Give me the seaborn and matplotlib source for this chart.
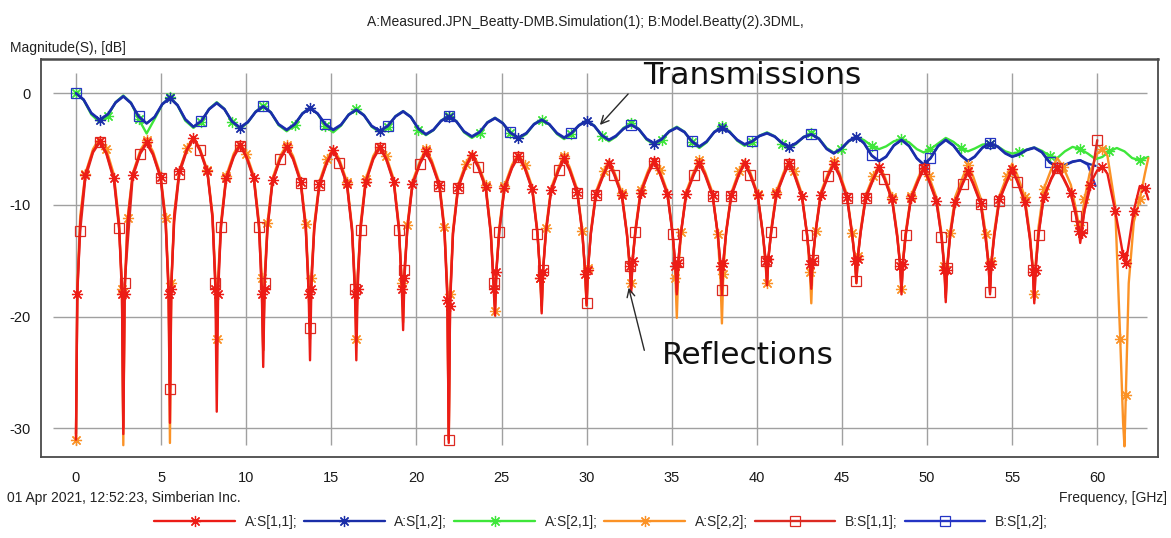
import matplotlib
matplotlib.use("Agg")
import matplotlib.pyplot as plt
import seaborn as sns
from matplotlib.lines import Line2D
from matplotlib.legend_handler import HandlerLine2D

# ---------------------------------------------------------------- data
# Reflection sweep points (GHz), one row per resonance lobe
refl_freq = [
    0.00, 0.08, 0.25, 0.55, 1.00, 1.39, 1.78, 2.23, 2.53, 2.70,
    2.78, 2.86, 3.03, 3.33, 3.78, 4.15, 4.52, 4.97, 5.27, 5.44,
    5.52, 5.60, 5.77, 6.07, 6.52, 6.90, 7.27, 7.72, 8.02, 8.19,
    8.27, 8.35, 8.52, 8.82, 9.27, 9.64, 10.00, 10.45, 10.75, 10.92,
    11.00, 11.08, 11.25, 11.55, 12.00, 12.38, 12.75, 13.20, 13.50, 13.67,
    13.75, 13.83, 14.00, 14.30, 14.75, 15.11, 15.47, 15.92, 16.22, 16.39,
    16.47, 16.55, 16.72, 17.02, 17.47, 17.85, 18.22, 18.67, 18.97, 19.14,
    19.22, 19.30, 19.47, 19.77, 20.22, 20.56, 20.90, 21.35, 21.65, 21.82,
    21.90, 21.98, 22.15, 22.45, 22.90, 23.26, 23.62, 24.07, 24.37, 24.54,
    24.62, 24.70, 24.87, 25.17, 25.62, 25.99, 26.36, 26.81, 27.11, 27.28,
    27.36, 27.44, 27.61, 27.91, 28.36, 28.68, 29.00, 29.45, 29.75, 29.92,
    30.00, 30.08, 30.25, 30.55, 31.00, 31.31, 31.62, 32.07, 32.37, 32.54,
    32.62, 32.70, 32.87, 33.17, 33.62, 33.96, 34.30, 34.75, 35.05, 35.22,
    35.30, 35.38, 35.55, 35.85, 36.30, 36.62, 36.95, 37.40, 37.70, 37.87,
    37.95, 38.03, 38.20, 38.50, 38.95, 39.28, 39.60, 40.05, 40.35, 40.52,
    40.60, 40.68, 40.85, 41.15, 41.60, 41.90, 42.20, 42.65, 42.95, 43.12,
    43.20, 43.28, 43.45, 43.75, 44.20, 44.52, 44.85, 45.30, 45.60, 45.77,
    45.85, 45.93, 46.10, 46.40, 46.85, 47.18, 47.50, 47.95, 48.25, 48.42,
    48.50, 48.58, 48.75, 49.05, 49.50, 49.80, 50.10, 50.55, 50.85, 51.02,
    51.10, 51.18, 51.35, 51.65, 52.10, 52.40, 52.70, 53.15, 53.45, 53.62,
    53.70, 53.78, 53.95, 54.25, 54.70, 55.00, 55.30, 55.75, 56.05, 56.22,
    56.30, 56.38, 56.55, 56.85, 57.30, 57.65, 58.00, 58.45, 58.75, 58.92,
    59.00, 59.08, 59.25, 59.55, 60.00, 60.30, 60.60, 61.05, 61.35, 61.52,
    61.60, 61.68, 61.85, 62.15, 62.50, 62.80, 63.00,
]

# A:S[1,1] measured, dB
s11_a = [
    -31.0, -18.0, -11.5, -7.3, -5.2, -4.3, -5.3, -7.6, -11.8, -18.0,
    -30.5, -18.0, -11.5, -7.3, -5.3, -4.4, -5.4, -7.5, -11.5, -18.0,
    -29.5, -17.5, -11.0, -7.0, -5.0, -4.0, -5.0, -7.0, -11.0, -17.5,
    -28.5, -18.0, -11.8, -7.6, -5.6, -4.6, -5.6, -7.6, -11.8, -18.0,
    -24.5, -17.5, -12.0, -7.8, -5.8, -4.8, -5.8, -7.9, -12.0, -18.0,
    -23.9, -17.5, -12.0, -8.1, -6.1, -5.1, -6.1, -8.1, -12.2, -18.0,
    -23.9, -17.5, -12.0, -7.9, -5.8, -4.8, -5.8, -7.9, -12.0, -17.5,
    -21.2, -16.5, -12.0, -8.1, -6.2, -5.2, -6.2, -8.2, -12.3, -18.5,
    -31.3, -19.0, -12.5, -8.4, -6.5, -5.5, -6.5, -8.4, -12.5, -17.5,
    -19.9, -16.0, -12.3, -8.5, -6.6, -5.6, -6.6, -8.6, -12.5, -16.5,
    -19.7, -16.0, -12.4, -8.7, -6.8, -5.8, -6.8, -8.8, -12.5, -16.2,
    -19.0, -15.8, -12.5, -9.0, -7.2, -6.2, -7.2, -9.1, -12.6, -15.5,
    -17.8, -15.0, -12.3, -8.9, -7.1, -6.1, -7.1, -9.0, -12.5, -15.5,
    -18.0, -15.2, -12.4, -9.0, -7.2, -6.2, -7.2, -9.1, -12.5, -15.5,
    -18.0, -15.2, -12.4, -9.1, -7.2, -6.2, -7.2, -9.1, -12.5, -15.0,
    -17.2, -14.8, -12.3, -9.0, -7.2, -6.2, -7.2, -9.2, -12.6, -15.3,
    -17.5, -15.0, -12.4, -9.1, -7.3, -6.3, -7.3, -9.3, -12.6, -15.0,
    -17.0, -14.8, -12.4, -9.3, -7.6, -6.6, -7.6, -9.5, -12.8, -15.5,
    -18.0, -15.3, -12.6, -9.4, -7.7, -6.7, -7.7, -9.6, -12.8, -15.8,
    -18.7, -15.8, -12.8, -9.7, -8.0, -7.0, -8.0, -9.8, -13.0, -15.5,
    -18.0, -15.3, -12.7, -9.5, -7.8, -6.8, -7.8, -9.7, -13.0, -16.0,
    -18.8, -15.8, -12.6, -9.3, -7.6, -6.6, -7.5, -8.9, -10.8, -12.3,
    -13.4, -12.5, -10.5, -8.2, -6.9, -6.6, -7.2, -10.5, -13.0, -14.5,
    -15.0, -15.2, -13.5, -10.5, -8.3, -8.5, -9.5,
]

# A:S[2,2] measured, dB
s22_a = [
    -31.0, -17.0, -11.0, -7.2, -5.0, -4.0, -5.0, -7.3, -11.5, -17.5,
    -31.5, -17.5, -11.2, -7.2, -5.1, -4.2, -5.2, -7.3, -11.2, -17.0,
    -31.3, -17.0, -10.8, -6.9, -4.9, -3.9, -4.9, -6.9, -10.8, -16.5,
    -22.0, -16.5, -11.5, -7.4, -5.4, -4.4, -5.4, -7.4, -11.5, -16.5,
    -23.0, -16.5, -11.6, -7.6, -5.6, -4.6, -5.6, -7.7, -11.7, -17.0,
    -22.0, -16.5, -11.7, -7.9, -5.9, -4.9, -5.9, -7.9, -12.0, -17.0,
    -22.0, -16.5, -11.7, -7.7, -5.6, -4.6, -5.6, -7.7, -11.8, -17.0,
    -20.5, -16.0, -11.8, -7.9, -6.0, -5.0, -6.0, -8.0, -12.0, -17.5,
    -31.0, -18.0, -12.2, -8.2, -6.3, -5.3, -6.3, -8.2, -12.2, -17.0,
    -19.5, -15.8, -12.0, -8.3, -6.4, -5.4, -6.4, -8.4, -12.3, -16.5,
    -19.5, -15.8, -12.1, -8.5, -6.6, -5.6, -6.6, -8.6, -12.3, -16.5,
    -19.0, -15.6, -12.3, -8.8, -7.0, -6.0, -7.0, -8.9, -12.5, -16.0,
    -17.0, -14.8, -12.1, -8.7, -6.9, -5.9, -6.9, -8.8, -12.5, -16.5,
    -20.1, -16.2, -12.4, -8.8, -7.0, -6.0, -7.0, -8.9, -12.6, -16.8,
    -20.6, -16.2, -12.3, -8.9, -7.0, -6.0, -7.0, -9.0, -12.5, -15.5,
    -17.0, -14.8, -12.1, -8.8, -7.0, -6.0, -7.0, -9.0, -12.6, -16.0,
    -18.8, -15.5, -12.3, -8.9, -7.1, -6.1, -7.1, -9.1, -12.5, -15.0,
    -17.0, -14.6, -12.2, -9.1, -7.4, -6.4, -7.4, -9.3, -12.6, -15.3,
    -17.5, -15.0, -12.4, -9.2, -7.5, -6.5, -7.4, -9.3, -12.5, -15.5,
    -18.0, -15.5, -12.5, -9.3, -7.5, -6.4, -7.4, -9.4, -12.6, -15.2,
    -17.5, -15.0, -12.4, -9.2, -7.4, -6.3, -7.3, -9.3, -12.7, -15.7,
    -18.0, -15.2, -12.0, -8.6, -6.8, -5.8, -6.6, -8.2, -10.4, -11.8,
    -12.5, -11.5, -9.5, -7.2, -5.4, -5.0, -5.6, -10.0, -22.0, -29.5,
    -31.6, -27.0, -17.0, -11.5, -9.5, -7.2, -5.8,
]

# B:S[1,1] model, dB (simulated up to 60 GHz)
s11_b = [
    -30.5, -17.5, -12.3, -7.6, -5.3, -4.4, -5.4, -7.8, -12.1, -17.0,
    -30.0, -17.0, -13.5, -7.5, -5.4, -4.5, -5.5, -7.6, -11.8, -17.5,
    -26.5, -17.0, -11.5, -7.2, -5.1, -4.1, -5.1, -7.1, -11.2, -17.0,
    -22.5, -17.0, -12.0, -7.7, -5.7, -4.7, -5.7, -7.7, -12.0, -17.5,
    -23.0, -17.0, -12.2, -7.9, -5.9, -4.9, -5.9, -8.0, -12.2, -17.5,
    -21.0, -16.5, -12.2, -8.2, -6.2, -5.2, -6.2, -8.2, -12.4, -17.5,
    -20.6, -16.3, -12.2, -8.0, -5.9, -4.9, -5.9, -8.0, -12.2, -17.0,
    -19.1, -15.8, -12.2, -8.2, -6.3, -5.3, -6.3, -8.3, -12.5, -18.0,
    -31.0, -18.5, -12.6, -8.5, -6.6, -5.6, -6.6, -8.5, -12.6, -17.0,
    -19.0, -15.8, -12.4, -8.6, -6.7, -5.7, -6.7, -8.7, -12.6, -16.3,
    -19.0, -15.8, -12.5, -8.8, -6.9, -5.9, -6.9, -8.9, -12.6, -16.0,
    -18.8, -15.7, -12.6, -9.1, -7.3, -6.3, -7.3, -9.2, -12.7, -15.5,
    -17.5, -14.9, -12.4, -9.0, -7.2, -6.2, -7.2, -9.1, -12.6, -15.4,
    -17.8, -15.1, -12.5, -9.1, -7.3, -6.3, -7.3, -9.2, -12.6, -15.3,
    -17.6, -15.0, -12.5, -9.2, -7.3, -6.3, -7.3, -9.2, -12.6, -15.0,
    -17.0, -14.7, -12.4, -9.1, -7.3, -6.3, -7.3, -9.3, -12.7, -15.2,
    -17.2, -14.9, -12.5, -9.2, -7.4, -6.4, -7.4, -9.4, -12.7, -15.0,
    -16.8, -14.7, -12.5, -9.4, -7.7, -6.7, -7.7, -9.6, -12.9, -15.3,
    -17.6, -15.2, -12.7, -9.5, -7.8, -6.8, -7.8, -9.7, -12.9, -15.6,
    -18.3, -15.6, -12.9, -9.8, -8.1, -7.1, -8.1, -9.9, -13.1, -15.4,
    -17.8, -15.2, -12.8, -9.6, -7.9, -6.9, -7.9, -9.8, -13.1, -15.8,
    -18.5, -15.6, -12.7, -9.4, -7.7, -6.7, -7.6, -9.0, -11.0, -12.5,
    -13.0, -12.0, -10.5, -8.7, -4.2,
]

# Transmission sweep points (GHz)
trans_freq = [
    0.00, 0.45, 0.90, 1.39, 1.88, 2.33,
    2.78, 3.23, 3.68, 4.15, 4.62, 5.07,
    5.52, 5.97, 6.42, 6.90, 7.37, 7.82,
    8.27, 8.72, 9.17, 9.64, 10.10, 10.55,
    11.00, 11.45, 11.90, 12.38, 12.85, 13.30,
    13.75, 14.20, 14.65, 15.11, 15.57, 16.02,
    16.47, 16.92, 17.37, 17.85, 18.32, 18.77,
    19.22, 19.67, 20.12, 20.56, 21.00, 21.45,
    21.90, 22.35, 22.80, 23.26, 23.72, 24.17,
    24.62, 25.07, 25.52, 25.99, 26.46, 26.91,
    27.36, 27.81, 28.26, 28.68, 29.10, 29.55,
    30.00, 30.45, 30.90, 31.31, 31.72, 32.17,
    32.62, 33.07, 33.52, 33.96, 34.40, 34.85,
    35.30, 35.75, 36.20, 36.62, 37.05, 37.50,
    37.95, 38.40, 38.85, 39.28, 39.70, 40.15,
    40.60, 41.05, 41.50, 41.90, 42.30, 42.75,
    43.20, 43.65, 44.10, 44.52, 44.95, 45.40,
    45.85, 46.30, 46.75, 47.18, 47.60, 48.05,
    48.50, 48.95, 49.40, 49.80, 50.20, 50.65,
    51.10, 51.55, 52.00, 52.40, 52.80, 53.25,
    53.70, 54.15, 54.60, 55.00, 55.40, 55.85,
    56.30, 56.75, 57.20, 57.65, 58.10, 58.55,
    59.00, 59.45, 59.90, 60.30, 60.70, 61.15,
    61.60, 62.05, 62.50, 63.00,
]

# A:S[1,2] measured, dB
s12_a = [
    0.0, -0.6, -1.8, -2.4, -1.9, -0.85,
    -0.3, -0.9, -2.1, -2.7, -2.15, -1.0,
    -0.45, -1.1, -2.35, -3.0, -2.5, -1.45,
    -0.9, -1.45, -2.55, -3.1, -2.6, -1.7,
    -1.2, -1.75, -2.8, -3.3, -2.8, -1.85,
    -1.35, -1.85, -2.8, -3.3, -2.85, -1.95,
    -1.5, -2.0, -2.95, -3.4, -2.95, -2.1,
    -1.65, -2.15, -3.2, -3.7, -3.3, -2.5,
    -2.1, -2.55, -3.45, -3.9, -3.5, -2.65,
    -2.25, -2.7, -3.55, -4.0, -3.6, -2.8,
    -2.4, -2.8, -3.6, -4.0, -3.6, -2.9,
    -2.5, -2.95, -3.8, -4.2, -3.85, -3.2,
    -2.85, -3.25, -4.1, -4.5, -4.15, -3.45,
    -3.1, -3.5, -4.35, -4.8, -4.35, -3.5,
    -3.1, -3.5, -4.2, -4.6, -4.35, -3.85,
    -3.6, -3.9, -4.5, -4.8, -4.5, -3.95,
    -3.7, -4.1, -5.0, -5.4, -5.0, -4.3,
    -3.9, -4.5, -5.6, -6.1, -5.7, -4.7,
    -4.2, -4.75, -5.85, -6.4, -5.85, -4.75,
    -4.2, -4.7, -5.6, -6.1, -5.7, -4.9,
    -4.5, -4.8, -5.4, -5.7, -5.5, -5.1,
    -4.9, -5.3, -6.2, -6.6, -6.45, -6.15,
    -6.0, -6.3, -6.5,
]

# A:S[2,1] measured, dB
s21_a = [
    0.0, -0.6, -1.9, -2.6, -2.0, -0.8,
    -0.2, -0.85, -2.3, -3.6, -2.3, -1.0,
    -0.3, -1.1, -2.45, -3.1, -2.55, -1.4,
    -0.8, -1.4, -2.6, -3.2, -2.6, -1.65,
    -1.1, -1.7, -2.85, -3.4, -2.85, -1.8,
    -1.3, -1.85, -2.95, -3.5, -2.9, -1.9,
    -1.4, -1.95, -3.0, -3.5, -3.0, -2.05,
    -1.6, -2.1, -3.25, -3.75, -3.3, -2.45,
    -2.0, -2.5, -3.5, -4.0, -3.55, -2.6,
    -2.2, -2.65, -3.6, -4.1, -3.65, -2.75,
    -2.35, -2.8, -3.65, -4.1, -3.65, -2.85,
    -2.45, -2.9, -3.85, -4.3, -3.9, -3.1,
    -2.7, -3.2, -4.15, -4.6, -4.2, -3.4,
    -3.0, -3.45, -4.4, -4.9, -4.4, -3.45,
    -2.95, -3.4, -4.25, -4.7, -4.4, -3.8,
    -3.5, -3.85, -4.55, -4.9, -4.55, -3.9,
    -3.6, -4.05, -4.9, -5.3, -5.0, -4.3,
    -3.9, -4.2, -4.7, -5.0, -4.75, -4.3,
    -4.1, -4.4, -5.0, -5.3, -5.0, -4.5,
    -4.0, -4.35, -4.9, -5.2, -4.95, -4.6,
    -4.5, -4.75, -5.2, -5.4, -5.3, -5.05,
    -4.85, -5.15, -5.6, -5.8, -5.2, -4.8,
    -5.0, -5.4, -5.9, -5.7, -5.2, -4.9,
    -5.2, -5.8, -6.0, -5.7,
]

# B:S[1,2] model, dB
s12_b = [
    0.0, -0.55, -1.75, -2.35, -1.85, -0.8,
    -0.25, -0.85, -2.05, -2.7, -2.1, -0.95,
    -0.4, -1.05, -2.3, -3.0, -2.45, -1.4,
    -0.85, -1.4, -2.5, -3.05, -2.55, -1.65,
    -1.15, -1.7, -2.75, -3.25, -2.75, -1.8,
    -1.3, -1.8, -2.75, -3.25, -2.8, -1.9,
    -1.45, -1.95, -2.9, -3.35, -2.9, -2.05,
    -1.6, -2.1, -3.15, -3.65, -3.25, -2.45,
    -2.05, -2.5, -3.4, -3.85, -3.45, -2.6,
    -2.2, -2.65, -3.5, -3.95, -3.55, -2.75,
    -2.35, -2.75, -3.55, -3.95, -3.55, -2.85,
    -2.45, -2.9, -3.75, -4.15, -3.8, -3.15,
    -2.8, -3.2, -4.05, -4.45, -4.1, -3.4,
    -3.05, -3.45, -4.3, -4.75, -4.3, -3.45,
    -3.05, -3.45, -4.15, -4.55, -4.3, -3.8,
    -3.55, -3.85, -4.45, -4.75, -4.45, -3.9,
    -3.65, -4.05, -4.95, -5.35, -4.95, -4.25,
    -3.85, -4.45, -5.55, -6.05, -5.65, -4.65,
    -4.15, -4.7, -5.8, -6.35, -5.8, -4.7,
    -4.15, -4.65, -5.55, -6.05, -5.65, -4.85,
    -4.45, -4.75, -5.35, -5.65, -5.45, -5.05,
    -4.85, -5.25, -6.15, -6.55, -6.4, -6.1,
    -6.0, -6.4, -8.3,
]

legend_labels = ["A:S[1,1];", "A:S[1,2];", "A:S[2,1];",
                 "A:S[2,2];", "B:S[1,1];", "B:S[1,2];"]
x_ticks = [0, 5, 10, 15, 20, 25, 30, 35, 40, 45, 50, 55, 60]
y_ticks = [0, -10, -20, -30]

title_text = "A:Measured.JPN_Beatty-DMB.Simulation(1); B:Model.Beatty(2).3DML,"
stamp_text = "01 Apr 2021, 12:52:23, Simberian Inc."

# ---------------------------------------------------------------- style
RED = "#ec1c16"
RED_B = "#dc2a22"
ORANGE = "#fb9226"
GREEN = "#3ee63a"
BLUE = "#1a2ea8"
BLUE_B = "#2434c4"
ASTER = (8, 2, 0)
STAR_MS = 8
STAR_MEW = 0.9
BOX_MS = 6.5

sns.set_theme(style="white")
plt.rcParams["font.family"] = ["Liberation Sans", "DejaVu Sans"]
plt.rcParams["axes.unicode_minus"] = False

fig = plt.figure(figsize=(11.71, 5.38), dpi=100)
ax = fig.add_axes([0.0348, 0.1511, 0.9541, 0.7387])
ax.set_xlim(-2.07, 63.57)
ax.set_ylim(-32.53, 3.04)

# grid stops short of the frame
ax.hlines(y_ticks, -1.35, 62.9, colors="#a0a0a0", lw=1.0, zorder=0)
ax.vlines(x_ticks, -31.5, 1.8, colors="#a0a0a0", lw=1.0, zorder=0)


def trace(x, y, color, marker, size, every, face=None, lw=1.7, z=2):
    sns.lineplot(x=x, y=y, ax=ax, color=color, lw=lw, marker=marker,
                 markersize=size, markevery=every, markeredgecolor=color,
                 markerfacecolor=face if face is not None else color,
                 markeredgewidth=STAR_MEW, estimator=None, sort=False,
                 errorbar=None, legend=False, zorder=z)


# transmissions
trace(trans_freq[:len(s21_a)], s21_a, GREEN, ASTER, STAR_MS, (0, 4), z=2)
trace(trans_freq[:len(s12_b)], s12_b, BLUE_B, "s", BOX_MS, 8, face="none", z=3)
trace(trans_freq[:len(s12_a)], s12_a, BLUE, ASTER, STAR_MS, (3, 9), z=3)

# reflections
trace(refl_freq[:len(s22_a)], s22_a, ORANGE, ASTER, STAR_MS, (0, 3), z=4)
trace(refl_freq[:len(s11_b)], s11_b, RED_B, "s", BOX_MS, (2, 3), face="none", z=5)
trace(refl_freq[:len(s11_a)], s11_a, RED, ASTER, STAR_MS, (1, 2), z=6)

# axes frame and ticks
for side in ax.spines.values():
    side.set_color("#4a4a4a")
    side.set_linewidth(1.3)
ax.spines["top"].set_linewidth(1.8)
ax.set_xticks(x_ticks)
ax.set_yticks(y_ticks)
ax.tick_params(direction="inout", length=9, width=1.1, color="#404040",
               labelsize=10.5, labelcolor="#1a1a1a")
ax.tick_params(axis="x", pad=6)
ax.tick_params(axis="y", pad=3)
ax.set_xlabel("")
ax.set_ylabel("")

# callouts
ax.annotate("", xy=(30.67, -3.02), xytext=(32.55, 0.12),
            arrowprops=dict(arrowstyle="->", color="#2a2a2a", lw=1.0,
                            mutation_scale=14), zorder=8)
ax.text(39.72, 1.55, "Transmissions", ha="center", va="center",
        fontsize=22.5, family="DejaVu Sans", color="#111111", zorder=8)
ax.annotate("", xy=(32.43, -17.16), xytext=(33.43, -23.25),
            arrowprops=dict(arrowstyle="->", color="#2a2a2a", lw=1.0,
                            mutation_scale=14), zorder=8)
ax.text(39.48, -23.43, "Reflections", ha="center", va="center",
        fontsize=22.5, family="DejaVu Sans", color="#111111", zorder=8)

# figure texts
W, H = 1171.0, 538.0
fig.text(0.5, 1 - 22 / H, title_text, ha="center", va="center",
         fontsize=10, color="#222222")
fig.text(10 / W, 1 - 48 / H, "Magnitude(S), [dB]", ha="left",
         va="center", fontsize=10, color="#222222")
fig.text(7 / W, 1 - 498 / H, stamp_text, ha="left", va="center",
         fontsize=10, color="#222222")
fig.text(1167 / W, 1 - 498 / H, "Frequency, [GHz]", ha="right",
         va="center", fontsize=10, color="#222222")


class EndMarker(HandlerLine2D):
    """Legend line with its marker sitting at the right end."""

    def get_xdata(self, legend, xdescent, ydescent, width, height, fontsize):
        xdata = [-xdescent, -xdescent + width]
        return xdata, [-xdescent + width]


def key(color, marker, size, face=None):
    return Line2D([], [], color=color, lw=1.7, marker=marker, ms=size,
                  mec=color, mfc=face if face is not None else color,
                  mew=STAR_MEW)


handles = [
    key(RED, ASTER, STAR_MS),
    key(BLUE, ASTER, STAR_MS),
    key(GREEN, ASTER, STAR_MS),
    key(ORANGE, ASTER, STAR_MS),
    key(RED_B, "s", BOX_MS, face="none"),
    key(BLUE_B, "s", BOX_MS, face="none"),
]
fig.legend(handles, legend_labels, loc="center",
           bbox_to_anchor=(601 / W, 1 - 522 / H), ncol=6, frameon=False,
           fontsize=10, handlelength=5.8, handletextpad=0.7,
           columnspacing=0.5, borderpad=0.0,
           handler_map={Line2D: EndMarker()})

fig.savefig("out.png", dpi=100, facecolor="white")
